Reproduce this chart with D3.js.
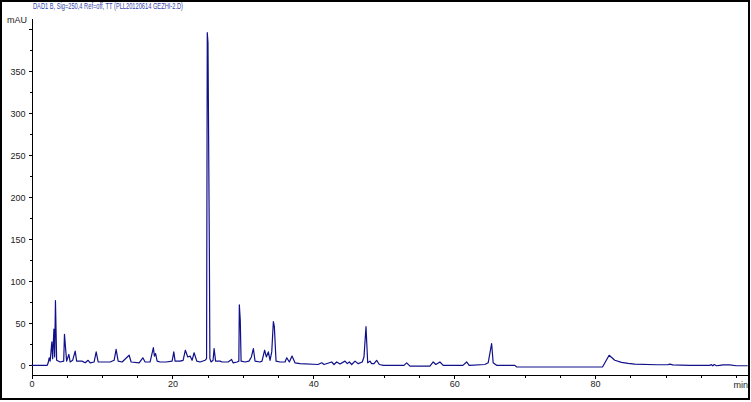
<!DOCTYPE html>
<html>
<head>
<meta charset="utf-8">
<script src="https://cdn.jsdelivr.net/npm/d3@7"></script>
<style>
    body { margin: 0; background: #fff; }
    svg { display: block; }
    .axis text { font-family: 'Liberation Sans Narrow', 'Arial Narrow', 'Liberation Sans', sans-serif; font-size: 9px; fill: #222; }
    .axis path, .axis line { stroke: #000; shape-rendering: crispEdges; }
</style>
</head>
<body>
<svg id="chart" width="751" height="402"></svg>
<script>
let title = 'DAD1 B, Sig=250,4 Ref=off, TT (PLL20120614 GEZHI-2.D)'
let yUnit = 'mAU'
let xUnit = 'min'

// retention time (min) and signal (mAU), vertex by vertex
let times = [0, 2.23, 2.37, 2.51, 2.65, 2.89, 3.0, 3.18, 3.29, 3.40, 3.57, 4.07, 4.57, 4.68, 4.82, 4.99,
    5.30, 5.49, 5.84, 6.20, 6.41, 7.15, 7.62, 8.04, 8.33, 8.89, 9.18, 9.46, 11.16, 11.73, 12.01, 12.30,
    12.86, 13.86, 14.14, 15.28, 15.80, 16.13, 16.84, 17.30, 17.45, 17.62, 17.83, 18.26, 19.11, 19.96,
    20.20, 20.38, 21.09, 21.52, 21.84, 22.18, 22.51, 22.79, 23.08, 23.46, 23.93, 24.64, 24.85, 24.95,
    25.05, 25.25, 25.32, 25.49, 25.77, 25.92, 26.13, 26.77, 27.05, 27.90, 28.40, 28.61, 29.18, 29.43,
    29.50, 29.63, 29.75, 30.31, 30.87, 31.21, 31.49, 31.73, 32.44, 32.72, 33.09, 33.33, 33.62, 33.86,
    34.10, 34.33, 34.47, 34.71, 35.28, 35.99, 36.23, 36.60, 36.98, 37.40, 38.11, 40.67, 41.19, 41.52,
    42.61, 42.94, 43.32, 43.79, 44.50, 44.82, 45.11, 45.45, 45.92, 46.38, 46.95, 47.19, 47.48, 47.59,
    47.72, 48.04, 48.28, 48.61, 48.99, 49.36, 49.93, 52.87, 53.25, 53.72, 56.55, 57.02, 57.40, 57.97,
    58.44, 61.23, 61.76, 62.13, 64.35, 64.82, 65.31, 65.53, 66.01, 68.60, 68.89, 81.05, 81.99, 82.79,
    83.74, 84.68, 85.63, 88.71, 90.31, 90.60, 91.02, 93.43, 96.27, 96.51, 96.70, 96.91, 97.22, 97.69,
    98.16, 99.11, 100.06, 101.66]
let signal = [0, 0, 3, 9, 5, 28, 8, 43, 10, 77, 6, 4, 5, 37, 22, 5,
    13, 4, 6, 17, 5, 5, 3, 6, 3, 4, 16, 4, 4, 6, 19, 5,
    4, 12, 4, 3, 9, 4, 4, 21, 11, 14, 5, 4, 4, 5,
    16, 5, 5, 6, 18, 10, 11, 6, 15, 5, 4, 6, 8, 396,
    384, 130, 8, 4, 6, 20, 5, 5, 4, 4, 7, 3, 4, 5,
    72, 54, 5, 4, 5, 10, 20, 5, 4, 5, 18, 10, 16, 6,
    16, 52, 46, 5, 4, 4, 9, 4, 11, 3, 2, 1, 3, 1,
    4, 1, 4, 1.5, 5, 2, 4, 1, 5, 2, 4, 10, 46, 26,
    3, 5, 2, 2, 6, 1, 0, 0, 3, -1, -1, 4, 1, 4,
    0, 0, 4, 0, 1, 3, 26, 3, 0, 0, -2, -2, 12, 6,
    3.5, 2.3, 1.5, 0.7, 0.7, 1.5, 0.5, 0, 0, 0.8, -0.5, 1, -0.5, 0,
    0.5, 0.5, -0.5, -0.5]

let xMajor = [0, 20, 40, 60, 80]
let xMinor = [5, 10, 15, 25, 30, 35, 45, 50, 55, 65, 70, 75, 85, 90, 95, 100]
let xTickLabels = ['0', '20', '40', '60', '80']
let yMajor = [0, 50, 100, 150, 200, 250, 300, 350, 400]
let yMinor = [-0, 25, 75, 125, 175, 225, 275, 325, 375]
let yTickLabels = ['0', '50', '100', '150', '200', '250', '300', '350', '']

let svg = d3.select('#chart')

let xscale = d3.scaleLinear().domain([0, 101.7]).range([31.5, 748])
let yscale = d3.scaleLinear().domain([-11.5, 413.5]).range([375, 18])

// frame round the whole picture
svg.append('rect')
    .attr('x', 1).attr('y', 1)
    .attr('width', 748).attr('height', 398)
    .style('fill', 'none')
    .style('stroke', '#000')
    .style('stroke-width', 2)

svg.append('text')
    .attr('x', 33)
    .attr('y', 9)
    .attr('textLength', 150)
    .attr('lengthAdjust', 'spacingAndGlyphs')
    .style('font-family', "'Liberation Sans Narrow', 'Liberation Sans', sans-serif")
    .style('font-size', '9px')
    .style('fill', '#3445b0')
    .text(title)

// axes
svg.append('g').attr('class', 'axis xminor')
    .attr('transform', `translate(0,375)`)
    .call(d3.axisBottom(xscale).tickValues(xMinor).tickSize(3).tickSizeOuter(0).tickFormat(''))

svg.append('g').attr('class', 'axis xaxis')
    .attr('transform', `translate(0,375)`)
    .call(d3.axisBottom(xscale).tickValues(xMajor).tickSize(4).tickSizeOuter(0).tickPadding(2)
        .tickFormat((d, i) => xTickLabels[i]))

svg.append('g').attr('class', 'axis yminor')
    .attr('transform', `translate(31.5,0)`)
    .call(d3.axisLeft(yscale).tickValues(yMinor.slice(1)).tickSize(2).tickSizeOuter(0).tickFormat(''))

svg.append('g').attr('class', 'axis yaxis')
    .attr('transform', `translate(31.5,0)`)
    .call(d3.axisLeft(yscale).tickValues(yMajor).tickSize(3).tickSizeOuter(0).tickPadding(3)
        .tickFormat((d, i) => yTickLabels[i]))

svg.append('text')
    .attr('class', 'unit')
    .attr('x', 27).attr('y', 23)
    .attr('text-anchor', 'end')
    .style('font-family', "'Liberation Sans Narrow', 'Liberation Sans', sans-serif")
    .style('font-size', '9px')
    .style('fill', '#222')
    .text(yUnit)

svg.append('text')
    .attr('class', 'unit')
    .attr('x', 748).attr('y', 388)
    .attr('text-anchor', 'end')
    .style('font-family', "'Liberation Sans Narrow', 'Liberation Sans', sans-serif")
    .style('font-size', '9px')
    .style('fill', '#222')
    .text(xUnit)

let trace = times.map((t, i) => ({ t: t, v: signal[i] }))

let line = d3.line()
    .x(d => xscale(d.t))
    .y(d => yscale(d.v))

svg.append('path')
    .attr('d', line(trace))
    .style('fill', 'none')
    .style('stroke', '#10108a')
    .style('stroke-width', 1.2)
    .style('stroke-linejoin', 'round')
</script>
</body>
</html>
